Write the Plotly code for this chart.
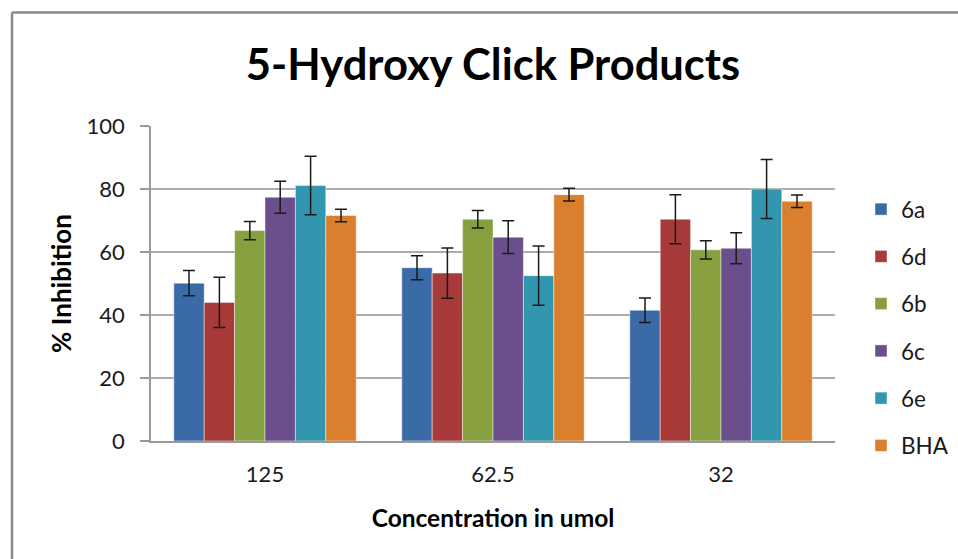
import plotly.graph_objects as go

categories = ["125", "62.5", "32"]
series_names = ["6a", "6d", "6b", "6c", "6e", "BHA"]
values_6a = [50.1, 55.0, 41.5]
values_6d = [44.0, 53.3, 70.4]
values_6b = [66.8, 70.4, 60.7]
values_6c = [77.4, 64.7, 61.2]
values_6e = [81.1, 52.5, 80.0]
values_bha = [71.6, 78.2, 76.1]
err_6a = [4.0, 3.8, 3.9]
err_6d = [8.0, 8.0, 7.8]
err_6b = [2.9, 2.8, 2.9]
err_6c = [5.1, 5.2, 4.9]
err_6e = [9.3, 9.4, 9.4]
err_bha = [2.0, 2.0, 2.0]
colors = ["#3A6BA6", "#A83B39", "#86A040", "#6B4F8C", "#3296AF", "#DA7F2E"]

series_values = [values_6a, values_6d, values_6b, values_6c, values_6e, values_bha]
series_errors = [err_6a, err_6d, err_6b, err_6c, err_6e, err_bha]

FONT = "Lato"

fig = go.Figure()
for i, name in enumerate(series_names):
    fig.add_trace(go.Bar(
        x=categories, y=series_values[i], name=name,
        legendgroup=name,
        marker=dict(color=colors[i], line=dict(color="rgba(255,255,255,0.45)", width=1)),
        error_y=dict(type="data", array=series_errors[i], visible=True,
                     color="#1a1a1a", thickness=1.5, width=6),
    ))

W, H = 958, 559
L, R, T = 151, 123, 126
PLOT_BOTTOM = 441
B = H - PLOT_BOTTOM
pw, ph = W - L - R, PLOT_BOTTOM - T

def px(x):
    return (x - L) / pw

def py(y):
    return (PLOT_BOTTOM - y) / ph

fig.update_layout(
    width=W, height=H,
    margin=dict(l=L, r=R, t=T, b=B, autoexpand=False),
    paper_bgcolor="white", plot_bgcolor="white",
    barmode="group", bargap=0.2, bargroupgap=0,
    font=dict(family=FONT, color="#1a1a1a"),
    title=dict(text="<b>5-Hydroxy Click Products</b>", x=0.5, xref="paper", xanchor="center",
               y=1 - 65 / H, yanchor="middle", font=dict(size=43.5, family=FONT, color="black")),
    legend=dict(x=px(861), xanchor="left", y=py(188), yanchor="top",
                font=dict(size=22.5, family=FONT, color="#1a1a1a"),
                tracegroupgap=15, bgcolor="rgba(0,0,0,0)"),
    showlegend=True,
    shapes=[
        dict(type="line", xref="paper", yref="paper", x0=px(12), x1=px(W), y0=py(12.5), y1=py(12.5),
             line=dict(color="#8a8a8a", width=2.5)),
        dict(type="line", xref="paper", yref="paper", x0=px(12), x1=px(12), y0=py(12.5), y1=py(H),
             line=dict(color="#8a8a8a", width=2.5)),
    ],
)

fig.update_xaxes(
    type="category", showline=True, linecolor="#9a9a9a", linewidth=1.5,
    ticks="", showgrid=False, ticklabelstandoff=13, automargin=False,
    tickfont=dict(size=22, family=FONT, color="#1a1a1a"),
    title=dict(text="<b>Concentration in umol</b>", standoff=24,
               font=dict(size=24.5, family=FONT, color="black")),
)
fig.update_yaxes(
    range=[0, 100], dtick=20, showline=True, linecolor="#9a9a9a", linewidth=1.5,
    ticks="outside", ticklen=9, tickcolor="#9a9a9a", tickwidth=1.5,
    showgrid=True, gridcolor="#ababab", gridwidth=1.5, zeroline=False,
    ticklabelstandoff=11, automargin=False,
    tickfont=dict(size=22, family=FONT, color="#1a1a1a"),
    title=dict(text="<b>% Inhibition</b>", standoff=7,
               font=dict(size=26, family=FONT, color="black")),
)

fig.write_html(
    "out.html",
    config={"displayModeBar": False},
    post_script="document.body.style.margin='0';document.body.style.overflow='hidden';",
)
